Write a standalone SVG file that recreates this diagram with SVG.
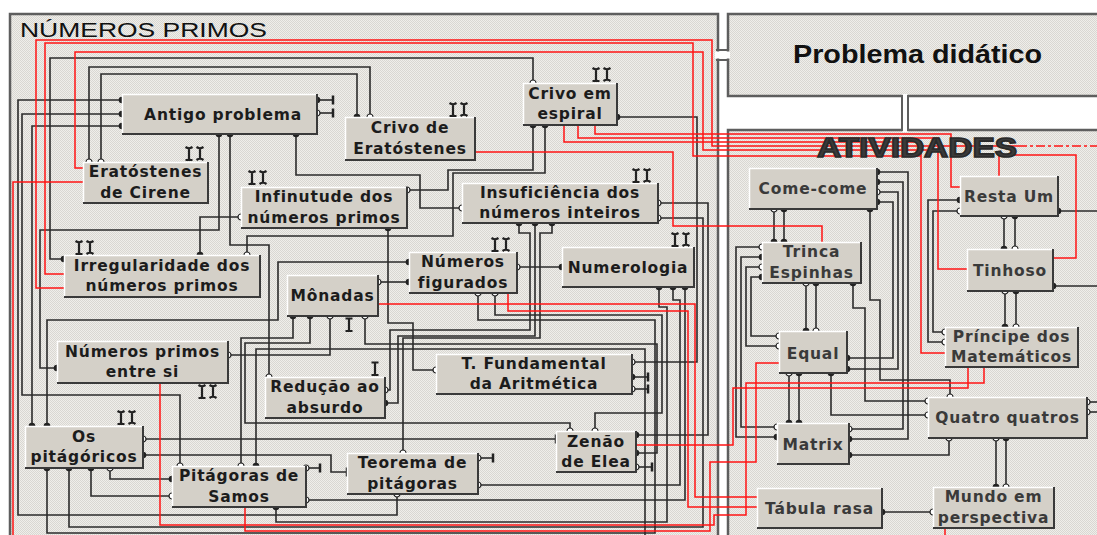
<svg xmlns="http://www.w3.org/2000/svg" width="1097" height="535" viewBox="0 0 1097 535">
<defs>
<pattern id="dots" width="2" height="2" patternUnits="userSpaceOnUse"><rect width="2" height="2" fill="#efeeea"/><rect width="1" height="1" fill="#d9d7d2"/><rect x="1" y="1" width="1" height="1" fill="#d9d7d2"/></pattern>
<marker id="f" markerUnits="userSpaceOnUse" markerWidth="10" markerHeight="10" viewBox="-5 -5 10 10" refX="0" refY="0"><circle r="3.3" fill="#222"/></marker>
<marker id="o" markerUnits="userSpaceOnUse" markerWidth="10" markerHeight="10" viewBox="-5 -5 10 10" refX="0" refY="0"><circle r="3" fill="#fff" stroke="#222" stroke-width="1.2"/></marker>
<marker id="T" markerUnits="userSpaceOnUse" markerWidth="10" markerHeight="10" viewBox="-5 -5 10 10" refX="0" refY="0" orient="auto"><path d="M0,-4.5 V4.5" stroke="#222" stroke-width="2.5"/></marker>
<g id="ii"><path d="M-3.5,0 Q0,2.5 3.5,0 M0,1 V12 M-3.5,13 H3.5 M7.5,0 Q11,2.5 14.5,0 M11,1 V12 M7.5,13 Q11,10.5 14.5,13" fill="none" stroke="#222" stroke-width="2.2"/><path d="M-3,13.5 L0,10.5 L3,13.5 Z" fill="#222"/></g>
<g id="i1"><path d="M-3.5,0.5 H3.5 M0,0 V13 M-3.5,13 H3.5" fill="none" stroke="#222" stroke-width="2.2"/></g>
</defs>
<style>
.pn{fill:url(#dots);stroke:#5e5e5e;stroke-width:2.5}
.k{fill:none;stroke:#2b2b2b;stroke-width:1.6}
.r{fill:none;stroke:#ff1414;stroke-width:1.5}
.ff{marker-start:url(#f);marker-end:url(#f)}
.fo{marker-start:url(#f);marker-end:url(#o)}
.of{marker-start:url(#o);marker-end:url(#f)}
.oo{marker-start:url(#o);marker-end:url(#o)}
.fT{marker-start:url(#f);marker-end:url(#T)}
.oT{marker-start:url(#o);marker-end:url(#T)}
.fx{marker-start:url(#f)}
.ox{marker-start:url(#o)}
.nb{fill:#d4d0c8}
.hl{fill:none;stroke:#ffffff;stroke-width:1.5}
.sh{fill:none;stroke:#3a3a3a;stroke-width:2}
.t{font-family:"DejaVu Sans",Verdana,sans-serif;font-weight:bold;font-size:15.5px;letter-spacing:0.8px;fill:#1c1c1c;text-anchor:middle}
.t2{fill:#3a3a3a}
</style>
<rect width="1097" height="535" fill="#ffffff"/>
<g id="panels">
<rect class="pn" x="10" y="14" width="708" height="540"/>
<rect class="pn" x="728" y="14" width="372" height="82"/>
<rect class="pn" x="728" y="130" width="372" height="420"/>
<rect x="715" y="51.5" width="15" height="7" fill="#ffffff"/>
<path d="M716,50 H729 M716,60 H729" stroke="#5e5e5e" stroke-width="2" fill="none"/>
<rect x="902.5" y="94" width="5" height="38" fill="#ffffff"/>
<path d="M902,95 V131 M908,95 V131" stroke="#5e5e5e" stroke-width="2" fill="none"/>
</g>
<g id="connectors">
<path class="k fo" d="M64,259 H50 V58 H533 V83"/>
<path class="k oo" d="M89,162 V67 H370 V117"/>
<path class="k of" d="M101,162 V74 H357 V117"/>
<path class="k fo" d="M122,100 H18 V515 H397 V494"/>
<path class="k fo" d="M122,114 H22 V395 H180 V466"/>
<path class="k ff" d="M122,126 H32 V426"/>
<path class="k fo" d="M296,134 V175 H420 V208 H462"/>
<path class="k ff" d="M219,134 V230 H40 V368 H57"/>
<path class="k fo" d="M230,134 V245 H269 V377"/>
<path class="k of" d="M241,217 H200 V255"/>
<path class="k fo" d="M388,228 V323 H413 V370 H436"/>
<path class="k fo" d="M533,125 V170 H448 V190 H407"/>
<path class="k fo" d="M545,125 V173 H453 V236 H247 V255"/>
<path class="k ff" d="M409,262 H278 V320 H47 V426"/>
<path class="k of" d="M378,282 H409"/>
<path class="k of" d="M517,267 H562"/>
<path class="k fo" d="M293,316 V338 H241 V466"/>
<path class="k fo" d="M310,316 V343 H245 V423 H570 V431"/>
<path class="k oo" d="M330,316 V355 H228"/>
<path class="k of" d="M365,316 V344 H657 V453 H636"/>
<path class="k fo" d="M519,223 V233 H530 V330 H390 V390 H385"/>
<path class="k ff" d="M535,223 V336 H398 V403 H385"/>
<path class="k fo" d="M552,223 V233 H540 V338 H403 V453"/>
<path class="k of" d="M658,203 H708 V435 H636"/>
<path class="k of" d="M658,218 H703 V527 H69 V468"/>
<path class="k fo" d="M617,117 H697 V362 H632"/>
<path class="k ff" d="M659,287 V307 H667 V522 H276 V507"/>
<path class="k fo" d="M673,287 V300 H680 V485 H478"/>
<path class="k fo" d="M685,287 V500 H306"/>
<path class="k of" d="M478,293 V320 H655 V533 H47 V468"/>
<path class="k oo" d="M495,293 V315 H662 V413 H595 V431"/>
<path class="k fx" d="M256,466 V349 H645 V535"/>
<path class="k oT" d="M143,439 H556"/>
<path class="k fT" d="M143,455 H331 V472 H347"/>
<path class="k of" d="M110,468 V479 H172"/>
<path class="k fo" d="M91,468 V496 H172"/>
<path class="k oT" d="M478,458 H493"/>
<path class="k oT" d="M306,468 H320"/>
<path class="k fT" d="M317,100 H333"/>
<path class="k oT" d="M317,113 H333"/>
<path class="k fT" d="M632,377 H648"/>
<path class="k oT" d="M632,389 H648"/>
<path class="k oT" d="M636,467 H652"/>
<path class="k ff" d="M877,172 H908 V439 H849"/>
<path class="k fo" d="M877,182 H903 V429 H849"/>
<path class="k of" d="M877,192 H898 V369 H847"/>
<path class="k ff" d="M877,202 H893 V358 H847"/>
<path class="k of" d="M774,209 V242"/>
<path class="k ff" d="M784,209 V242"/>
<path class="k of" d="M762,247 H736 V437 H777"/>
<path class="k fo" d="M762,257 H741 V427 H777"/>
<path class="k oo" d="M762,267 H746 V346 H779"/>
<path class="k fo" d="M762,277 H751 V336 H779"/>
<path class="k of" d="M806,283 V331"/>
<path class="k fo" d="M816,283 V331"/>
<path class="k fo" d="M853,283 V308 H865 V401 H928"/>
<path class="k fo" d="M870,209 V300 H880 V380 H950 V397"/>
<path class="k fo" d="M831,373 V415 H928"/>
<path class="k of" d="M789,373 V423"/>
<path class="k ff" d="M799,373 V423"/>
<path class="k fo" d="M849,455 H949 V438"/>
<path class="k of" d="M996,438 V487"/>
<path class="k fo" d="M1006,438 V487"/>
<path class="k ox" d="M1087,402 H1097"/>
<path class="k ox" d="M1087,412 H1097"/>
<path class="k fo" d="M882,512 H933"/>
<path class="k fo" d="M960,200 H928 V342 H945"/>
<path class="k oo" d="M960,211 H933 V332 H945"/>
<path class="k of" d="M1004,216 V249"/>
<path class="k fo" d="M1015,216 V249"/>
<path class="k of" d="M1005,291 V327"/>
<path class="k fo" d="M1016,291 V327"/>
<path class="k fx" d="M1058,211 H1097"/>
<path class="k fx" d="M1053,286 H1097"/>
<path class="r" d="M595,125 V134 H951 V187 H960"/>
<path class="r" d="M578,125 V138 H938 V269 H967"/>
<path class="r" d="M564,125 V142 H921 V353 H945"/>
<path class="r" d="M64,288 H36 V40 H712 V146 H1018"/>
<path class="r" d="M1018,146 H1097" stroke-dasharray="9 3 3 3"/>
<path class="r" d="M64,274 H45 V43 H693 V156 H921"/>
<path class="r" d="M83,168 H75 V52 H703 V150 H938"/>
<path class="r" d="M83,182 H13 V535"/>
<path class="r" d="M475,152 H673 V226 H822 V242"/>
<path class="r" d="M378,304 H695 V497 H757"/>
<path class="r" d="M508,293 V311 H688 V507 H757"/>
<path class="r" d="M636,445 H733 V388 H968 V367"/>
<path class="r" d="M779,363 H756 V462 H710 V531 H245 V507"/>
<path class="r" d="M984,367 V383 H746 V515 H714 V525 H160 V383"/>
<path class="r" d="M945,528 V535"/>
<path class="r" d="M999,176 V155 H1076 V258 H1053"/>
</g>
<g id="n-antigo"><rect class="nb" x="122" y="94" width="195" height="40"/><path class="hl" d="M122.5,133 V94.5 H316"/><path class="sh" d="M317,94 V134 H122"/><text class="t" x="223" y="119.5">Antigo problema</text></g>
<g id="n-crivo-erat"><rect class="nb" x="345" y="117" width="130" height="43"/><path class="hl" d="M345.5,159 V117.5 H474"/><path class="sh" d="M475,117 V160 H345"/><text class="t" x="410" y="133">Crivo de</text><text class="t" x="410" y="154">Eratóstenes</text></g>
<g id="n-crivo-esp"><rect class="nb" x="523" y="83" width="94" height="42"/><path class="hl" d="M523.5,124 V83.5 H616"/><path class="sh" d="M617,83 V125 H523"/><text class="t" x="570" y="98.5">Crivo em</text><text class="t" x="570" y="119">espiral</text></g>
<g id="n-erat-cir"><rect class="nb" x="83" y="162" width="125" height="41"/><path class="hl" d="M83.5,202 V162.5 H207"/><path class="sh" d="M208,162 V203 H83"/><text class="t" x="145.5" y="177">Eratóstenes</text><text class="t" x="145.5" y="197.5">de Cirene</text></g>
<g id="n-infin"><rect class="nb" x="241" y="187" width="166" height="41"/><path class="hl" d="M241.5,227 V187.5 H406"/><path class="sh" d="M407,187 V228 H241"/><text class="t" x="324" y="202">Infinutude dos</text><text class="t" x="324" y="222.5">números primos</text></g>
<g id="n-insuf"><rect class="nb" x="462" y="183" width="196" height="40"/><path class="hl" d="M462.5,222 V183.5 H657"/><path class="sh" d="M658,183 V223 H462"/><text class="t" x="560" y="197.5">Insuficiência dos</text><text class="t" x="560" y="218">números inteiros</text></g>
<g id="n-irreg"><rect class="nb" x="64" y="255" width="196" height="42"/><path class="hl" d="M64.5,296 V255.5 H259"/><path class="sh" d="M260,255 V297 H64"/><text class="t" x="162" y="270.5">Irregularidade dos</text><text class="t" x="162" y="291">números primos</text></g>
<g id="n-numfig"><rect class="nb" x="409" y="252" width="108" height="41"/><path class="hl" d="M409.5,292 V252.5 H516"/><path class="sh" d="M517,252 V293 H409"/><text class="t" x="463" y="267">Números</text><text class="t" x="463" y="287.5">figurados</text></g>
<g id="n-numerol"><rect class="nb" x="562" y="247" width="132" height="40"/><path class="hl" d="M562.5,286 V247.5 H693"/><path class="sh" d="M694,247 V287 H562"/><text class="t" x="628" y="272.5">Numerologia</text></g>
<g id="n-monadas"><rect class="nb" x="287" y="275" width="91" height="41"/><path class="hl" d="M287.5,315 V275.5 H377"/><path class="sh" d="M378,275 V316 H287"/><text class="t" x="332.5" y="301">Mônadas</text></g>
<g id="n-primos-entre"><rect class="nb" x="57" y="341" width="171" height="42"/><path class="hl" d="M57.5,382 V341.5 H227"/><path class="sh" d="M228,341 V383 H57"/><text class="t" x="142.5" y="356.5">Números primos</text><text class="t" x="142.5" y="377">entre si</text></g>
<g id="n-reducao"><rect class="nb" x="265" y="377" width="120" height="41"/><path class="hl" d="M265.5,417 V377.5 H384"/><path class="sh" d="M385,377 V418 H265"/><text class="t" x="325" y="392">Redução ao</text><text class="t" x="325" y="412.5">absurdo</text></g>
<g id="n-tfund"><rect class="nb" x="436" y="354" width="196" height="40"/><path class="hl" d="M436.5,393 V354.5 H631"/><path class="sh" d="M632,354 V394 H436"/><text class="t" x="534" y="369">T. Fundamental</text><text class="t" x="534" y="389">da Aritmética</text></g>
<g id="n-pitagoricos"><rect class="nb" x="25" y="426" width="118" height="42"/><path class="hl" d="M25.5,467 V426.5 H142"/><path class="sh" d="M143,426 V468 H25"/><text class="t" x="84" y="441.5">Os</text><text class="t" x="84" y="462">pitágóricos</text></g>
<g id="n-pit-samos"><rect class="nb" x="172" y="466" width="134" height="41"/><path class="hl" d="M172.5,506 V466.5 H305"/><path class="sh" d="M306,466 V507 H172"/><text class="t" x="239" y="481">Pitágoras de</text><text class="t" x="239" y="501.5">Samos</text></g>
<g id="n-teorema"><rect class="nb" x="347" y="453" width="131" height="41"/><path class="hl" d="M347.5,493 V453.5 H477"/><path class="sh" d="M478,453 V494 H347"/><text class="t" x="412.5" y="468">Teorema de</text><text class="t" x="412.5" y="488.5">pitágoras</text></g>
<g id="n-zenao"><rect class="nb" x="556" y="431" width="80" height="41"/><path class="hl" d="M556.5,471 V431.5 H635"/><path class="sh" d="M636,431 V472 H556"/><text class="t" x="596" y="446.5">Zenão</text><text class="t" x="596" y="467">de Elea</text></g>
<g id="n-come-come"><rect class="nb" x="749" y="168" width="128" height="41"/><path class="hl" d="M749.5,208 V168.5 H876"/><path class="sh" d="M877,168 V209 H749"/><text class="t t2" x="813" y="194">Come-come</text></g>
<g id="n-trinca"><rect class="nb" x="762" y="242" width="99" height="41"/><path class="hl" d="M762.5,282 V242.5 H860"/><path class="sh" d="M861,242 V283 H762"/><text class="t t2" x="811.5" y="257">Trinca</text><text class="t t2" x="811.5" y="277.5">Espinhas</text></g>
<g id="n-resta-um"><rect class="nb" x="960" y="176" width="98" height="40"/><path class="hl" d="M960.5,215 V176.5 H1057"/><path class="sh" d="M1058,176 V216 H960"/><text class="t t2" x="1009" y="201.5">Resta Um</text></g>
<g id="n-tinhoso"><rect class="nb" x="967" y="249" width="86" height="42"/><path class="hl" d="M967.5,290 V249.5 H1052"/><path class="sh" d="M1053,249 V291 H967"/><text class="t t2" x="1010" y="275.5">Tinhoso</text></g>
<g id="n-principe"><rect class="nb" x="945" y="327" width="133" height="40"/><path class="hl" d="M945.5,366 V327.5 H1077"/><path class="sh" d="M1078,327 V367 H945"/><text class="t t2" x="1011.5" y="341.5">Príncipe dos</text><text class="t t2" x="1011.5" y="362">Matemáticos</text></g>
<g id="n-equal"><rect class="nb" x="779" y="331" width="68" height="42"/><path class="hl" d="M779.5,372 V331.5 H846"/><path class="sh" d="M847,331 V373 H779"/><text class="t t2" x="813" y="358.5">Equal</text></g>
<g id="n-quatro"><rect class="nb" x="928" y="397" width="159" height="41"/><path class="hl" d="M928.5,437 V397.5 H1086"/><path class="sh" d="M1087,397 V438 H928"/><text class="t t2" x="1007.5" y="423">Quatro quatros</text></g>
<g id="n-matrix"><rect class="nb" x="777" y="423" width="72" height="41"/><path class="hl" d="M777.5,463 V423.5 H848"/><path class="sh" d="M849,423 V464 H777"/><text class="t t2" x="813" y="449.5">Matrix</text></g>
<g id="n-tabula"><rect class="nb" x="757" y="488" width="125" height="40"/><path class="hl" d="M757.5,527 V488.5 H881"/><path class="sh" d="M882,488 V528 H757"/><text class="t t2" x="819.5" y="514">Tábula rasa</text></g>
<g id="n-mundo"><rect class="nb" x="933" y="487" width="121" height="41"/><path class="hl" d="M933.5,527 V487.5 H1053"/><path class="sh" d="M1054,487 V528 H933"/><text class="t t2" x="993.5" y="502">Mundo em</text><text class="t t2" x="993.5" y="522.5">perspectiva</text></g>
<g id="terminals">
<use href="#ii" x="189" y="147"/>
<use href="#ii" x="252" y="171"/>
<use href="#ii" x="453" y="103"/>
<use href="#ii" x="596" y="68"/>
<use href="#ii" x="636" y="169"/>
<use href="#ii" x="495" y="238"/>
<use href="#ii" x="675" y="233"/>
<use href="#ii" x="79" y="241"/>
<use href="#ii" x="202" y="385"/>
<use href="#ii" x="121" y="411"/>
<use href="#i1" x="349" y="318"/>
<use href="#i1" x="375" y="362"/>
</g>
<g id="titles">
<text x="20" y="37" textLength="247" lengthAdjust="spacingAndGlyphs" font-family="'Liberation Sans',Arial,sans-serif" font-size="21" fill="#111">NÚMEROS PRIMOS</text>
<text x="793" y="63" textLength="249" lengthAdjust="spacingAndGlyphs" font-family="'Liberation Sans',Arial,sans-serif" font-weight="bold" font-size="25" fill="#111">Problema didático</text>
<text x="817" y="157" textLength="200" lengthAdjust="spacingAndGlyphs" font-family="'Liberation Sans',Arial,sans-serif" font-weight="bold" font-size="27" fill="#3a3a3a" stroke="#2a2a2a" stroke-width="1.6">ATIVIDADES</text>
</g>
</svg>
